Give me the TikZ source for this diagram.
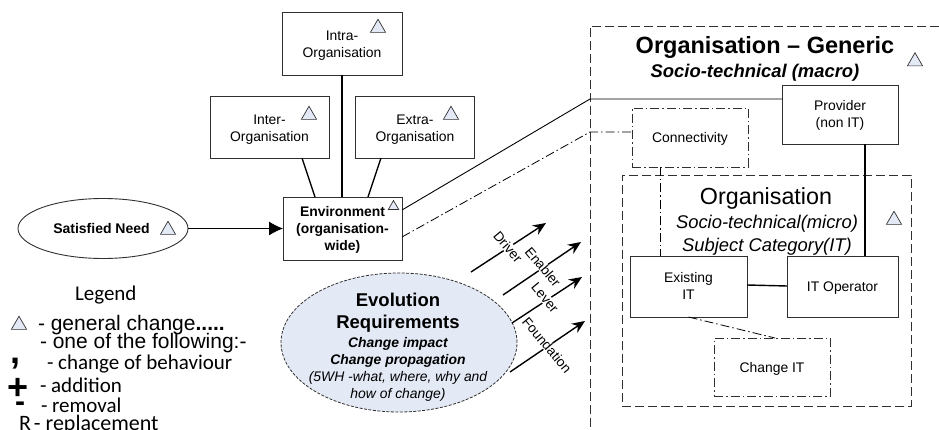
\documentclass[tikz,border=0pt]{standalone}
\usepackage{fontspec}
\setmainfont{Liberation Sans}
\newfontfamily\calib{Carlito}
\usetikzlibrary{arrows.meta,shapes.geometric,calc}
\definecolor{tint}{HTML}{E3E9F5}
\definecolor{edge}{HTML}{303030}
\newcommand{\fs}[2]{\fontsize{#1}{#2}\selectfont}
\newcommand{\lns}[2]{\vbox{\kern#1pt\hbox{\begin{tabular}{@{}c@{}}#2\end{tabular}}}}
\tikzset{
  x=1pt,y=-1pt,
  every node/.style={inner sep=0pt,outer sep=0pt,align=center},
  bx/.style={draw=edge,line width=0.9pt,font=\fs{13.9}{17}},
  dd/.style={draw=edge,line width=0.8pt,dash pattern=on 9pt off 3pt on 1.5pt off 3pt},
  tri/.style={regular polygon,regular polygon sides=3,draw=edge,fill=tint,line width=0.7pt,minimum size=17.5pt},
  trismall/.style={tri,minimum size=12pt},
  link/.style={draw=black,line width=1.4pt},
  thin link/.style={draw=black,line width=0.9pt},
  dlink/.style={draw=black,line width=0.8pt,dash pattern=on 9pt off 3pt on 1.5pt off 3pt},
  frame/.style={draw=edge,line width=0.8pt,dash pattern=on 9pt off 4pt},
  drv/.style={draw=black,line width=1.4pt,-{Stealth[length=13pt,width=11pt]}},
  rot/.style={rotate=-50,fill=white,font=\fs{13.6}{15},inner sep=0.5pt},
  lg/.style={anchor=base west,font=\calib\fs{21}{22}},
  lga/.style={anchor=base west,font=\fs{21}{22}},
}
\begin{document}
\begin{tikzpicture}
\useasboundingbox (0,0) rectangle (939,430);
\clip (0,0) rectangle (939,430);
% frames
\draw[frame] (939,26) -- (590,26) -- (590,428);
\node[frame,minimum width=289pt,minimum height=231pt] (inner) at (766.5,290.5) {};
% left boxes
\node[bx,minimum width=120pt,minimum height=63pt] (intra) at (342,43.5) {\lns{5}{Intra-\\Organisation}};
\node[bx,minimum width=119pt,minimum height=62pt] (inter) at (269.5,127) {\lns{5}{Inter-\\Organisation}};
\node[bx,minimum width=119pt,minimum height=62pt] (extra) at (415,127) {\lns{5}{Extra-\\Organisation}};
\node[bx,minimum width=119pt,minimum height=63pt,font=\bfseries\fs{13.9}{17}] (env) at (342.5,228.5) {\lns{3}{Environment\\(organisation-\\wide)}};
\node[draw=edge,line width=0.9pt,ellipse,minimum width=170pt,minimum height=60pt,font=\bfseries\fs{14}{15}] (need) at (103,228.5) {\hspace*{-3pt}Satisfied Need};
\node[draw=edge,line width=0.8pt,dash pattern=on 3pt off 1.5pt,ellipse,fill=tint,minimum width=236pt,minimum height=139pt] (evo) at (399,342.5) {};
\node[font=\bfseries\fs{18.5}{22}] (evot1) at (398,312.5) {Evolution\\Requirements};
\node[font=\bfseries\itshape\fs{13.9}{17}] (evot2) at (398,352) {Change impact\\Change propagation};
\node[font=\itshape\fs{13.9}{17}] (evot3) at (398,386) {(5WH -what, where, why and\\how of change)};
% right boxes
\node[bx,minimum width=116pt,minimum height=59pt] (provider) at (840,114.5) {\lns{2}{Provider\\(non IT)}};
\node[dd,minimum width=116pt,minimum height=59pt,font=\fs{13.9}{17}] (conn) at (690,137.5) {\lns{3}{Connectivity}};
\node[bx,minimum width=117pt,minimum height=61pt] (exist) at (688.5,286.5) {\lns{2}{Existing\\IT}};
\node[bx,minimum width=111pt,minimum height=61pt] (op) at (842.5,286.5) {\lns{4}{IT Operator}};
\node[dd,minimum width=116pt,minimum height=58pt,font=\fs{13.9}{17}] (change) at (772,367) {\lns{4}{Change IT}};
% headings
\node[font=\bfseries\fs{23.5}{28}] (t1) at (765,47) {Organisation -- Generic};
\node[font=\bfseries\itshape\fs{18.4}{20}] (t2) at (755,72.5) {Socio-technical (macro)};
\node[font=\fs{23.3}{27}] (t3) at (766,198) {Organisation};
\node[font=\itshape\fs{18.4}{22.5}] (t4) at (767,235) {Socio-technical(micro)\\Subject Category(IT)};
% triangles
\node[tri] (ta) at (378,28) {};
\node[tri] (tb) at (309,115) {};
\node[tri] (tc) at (451,115) {};
\node[trismall] (td) at (393.5,206.5) {};
\node[tri] (te) at (915,61.5) {};
\node[tri] (tf) at (894,220) {};
\node[tri] (tg) at (168,230) {};
% connectors
\coordinate (bendA) at (590,99);
\coordinate (bendB) at (590,132);
\draw[link] ([xshift=32.5pt]inter.south) -- ([xshift=-27.5pt]env.north);
\draw[link] (intra.south) -- (intra.south |- env.north);
\draw[link] ([xshift=-34pt]extra.south) -- ([xshift=25.5pt]env.north);
\draw[thin link,-{Latex[length=14pt,width=14pt]}] (need.east) -- (env.west);
\draw[thin link] ([yshift=18.5pt]env.east) -- (bendA) -- (provider.west |- bendA);
\draw[dlink] ([yshift=-8.5pt]env.east) -- (bendB) -- (conn.west |- bendB);
\draw[dlink] ([xshift=-30pt]conn.south) -- ([xshift=-30pt]conn.south |- exist.north);
\draw[link] ([xshift=25pt]provider.south) -- ([xshift=25pt]provider.south |- op.north);
\draw[link] ([yshift=1.5pt]exist.east) -- ([yshift=0.5pt]op.west);
\draw[dlink] (exist.south) -- ([xshift=3pt]change.north);
% driver arrows
\coordinate (d1a) at (471,272); \coordinate (d1b) at (546,223);
\coordinate (d2a) at (503,295); \coordinate (d2b) at (581,242);
\coordinate (d3a) at (512,323); \coordinate (d3b) at (582,277);
\coordinate (d4a) at (510,372); \coordinate (d4b) at (585,321);
\draw[drv] (d1a) -- (d1b);
\draw[drv] (d2a) -- (d2b);
\draw[drv] (d3a) -- (d3b);
\draw[drv] (d4a) -- (d4b);
\node[rot] (l1) at (508,247) {Driver};
\node[rot] (l2) at (543,267) {Enabler};
\node[rot] (l3) at (545,298) {Lever};
\node[rot] (l4) at (547,345) {Foundation};
% legend
\node[lg] (lega) at (75,300) {Legend};
\node[tri] (lt) at (19,325) {};
\node[lga] (lgb) at (38,330) {- general change\textbf{.....}};
\node[lga] (lgc) at (40,348) {- one of the following:-};
\node[lg] (lgd) at (47,369) {- change of behaviour};
\node[lg] (lge) at (40,392) {- addition};
\node[lg] (lgf) at (41,412) {- removal};
\node[lg,font=\calib\fs{22}{22}] (lgg) at (19,430) {R\hspace{-2pt} - replacement};
\node[anchor=base,font=\bfseries\fs{36}{36}] (s1) at (16,363) {,};
\node[anchor=base,font=\bfseries\fs{36}{36}] (s2) at (18,399) {+};
\node[anchor=base,font=\bfseries\fs{30}{30}] (s3) at (20,411) {-};
\end{tikzpicture}
\end{document}
